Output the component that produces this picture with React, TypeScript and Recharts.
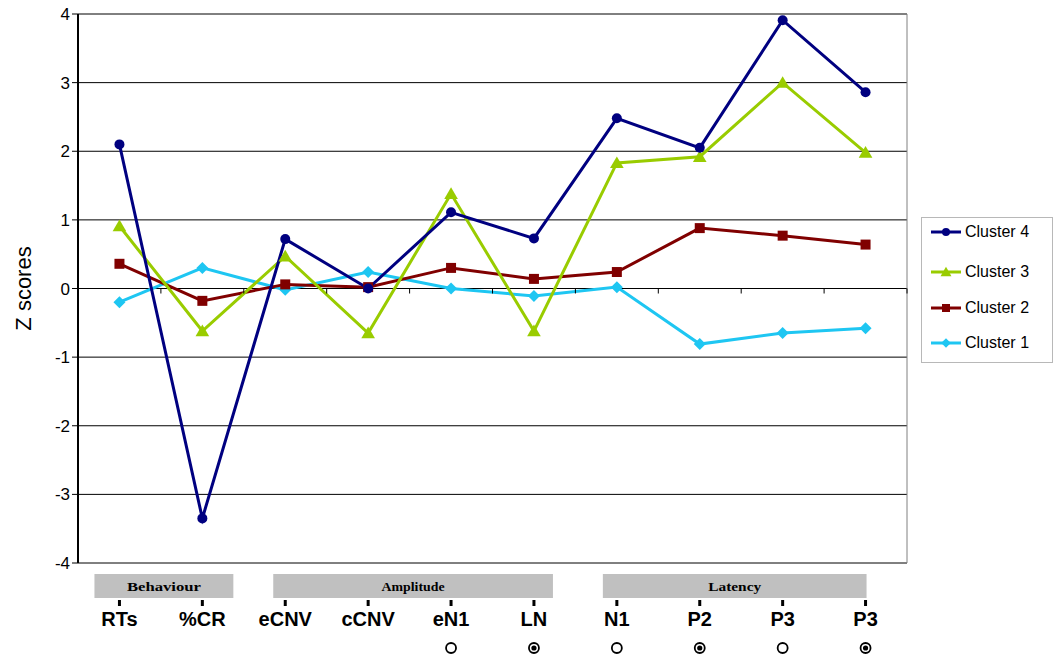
import React from "react";
import {
  LineChart,
  Line,
  XAxis,
  YAxis,
  CartesianGrid,
  ReferenceLine,
  Label,
} from "recharts";

const CATEGORIES = ["RTs", "%CR", "eCNV", "cCNV", "eN1", "LN", "N1", "P2", "P3", "P3"];
const CLUSTER_4 = [2.1, -3.35, 0.72, 0.0, 1.11, 0.73, 2.48, 2.05, 3.91, 2.86];
const CLUSTER_3 = [0.91, -0.62, 0.47, -0.65, 1.38, -0.62, 1.83, 1.92, 3.0, 1.98];
const CLUSTER_2 = [0.36, -0.18, 0.06, 0.02, 0.3, 0.14, 0.24, 0.88, 0.77, 0.64];
const CLUSTER_1 = [-0.2, 0.3, -0.02, 0.24, 0.0, -0.11, 0.02, -0.81, -0.65, -0.58];
const Y_TICKS = [-4, -3, -2, -1, 0, 1, 2, 3, 4];
const GROUPS = [
  { label: "Behaviour", first: 0, last: 1 },
  { label: "Amplitude", first: 2, last: 5 },
  { label: "Latency", first: 6, last: 9 },
];
// "open" = empty circle, "dot" = circle with a dot inside
const MARKS = ["", "", "", "", "open", "dot", "open", "dot", "open", "dot"];

const W = 1057;
const H = 669;
const MARGIN = { top: 14, right: 150, bottom: 0, left: 0 };
const Y_AXIS_W = 78;
const X_AXIS_H = 106;
const PLOT_W = W - MARGIN.left - MARGIN.right - Y_AXIS_W;
const PLOT_H = H - MARGIN.top - X_AXIS_H;
const BAND = PLOT_W / CATEGORIES.length;

// box padding around each group's first/last category
const GROUP_PAD = [
  [25, 31],
  [12, 19],
  [14, 1],
];
const GROUP_TEXT_W = [74, 63, 53];

const SANS = "Arial, 'Liberation Sans', sans-serif";
const SERIF = "'Times New Roman', 'Liberation Serif', serif";

const SERIES = [
  { key: "c1", name: "Cluster 1", values: CLUSTER_1, color: "#1EC6F2", shape: "diamond" },
  { key: "c2", name: "Cluster 2", values: CLUSTER_2, color: "#800000", shape: "square" },
  { key: "c3", name: "Cluster 3", values: CLUSTER_3, color: "#99CC00", shape: "triangle" },
  { key: "c4", name: "Cluster 4", values: CLUSTER_4, color: "#000080", shape: "circle" },
];

const data = CATEGORIES.map((cat, i) => {
  const row: Record<string, any> = { cat };
  SERIES.forEach((s) => (row[s.key] = s.values[i]));
  return row;
});

const markerPath = (shape: string, cx: number, cy: number, s: number) => {
  if (shape === "diamond") return `M${cx},${cy - s} L${cx + s},${cy} L${cx},${cy + s} L${cx - s},${cy} Z`;
  if (shape === "square") return `M${cx - s},${cy - s} h${2 * s} v${2 * s} h${-2 * s} Z`;
  if (shape === "triangle") return `M${cx},${cy - s} L${cx + s * 1.05},${cy + s * 0.8} L${cx - s * 1.05},${cy + s * 0.8} Z`;
  return "";
};

const Marker = ({ shape, cx, cy, color, scale = 1 }: any) => {
  if (shape === "circle") return <circle cx={cx} cy={cy} r={5 * scale} fill={color} />;
  const s = shape === "square" ? 5 : shape === "triangle" ? 6.5 : 6;
  return <path d={markerPath(shape, cx, cy, s * scale)} fill={color} />;
};

const makeDot = (shape: string, color: string) => (p: any) => {
  if (p.cx == null || p.cy == null) return <g key={p.index} />;
  return <Marker key={p.index} shape={shape} cx={p.cx} cy={p.cy} color={color} />;
};

const AxisTick = (props: any) => {
  const { x, y, payload } = props;
  const i = payload.index ?? props.index;
  const zeroY = y - PLOT_H / 2;
  const group = GROUPS.findIndex((g) => g.first === i);
  const mark = MARKS[i];
  return (
    <g>
      <line x1={x - BAND / 2} x2={x - BAND / 2} y1={zeroY} y2={zeroY + 5} stroke="#000" />
      {i === CATEGORIES.length - 1 && (
        <line x1={x + BAND / 2} x2={x + BAND / 2} y1={zeroY} y2={zeroY + 5} stroke="#000" />
      )}
      {group >= 0 && (() => {
        const g = GROUPS[group];
        const x0 = x - GROUP_PAD[group][0];
        const x1 = x + (g.last - g.first) * BAND + GROUP_PAD[group][1];
        return (
          <g>
            <rect x={x0} y={y + 11} width={x1 - x0} height={24} fill="#C0C0C0" />
            <text
              x={(x0 + x1) / 2}
              y={y + 28}
              textAnchor="middle"
              fontFamily={SERIF}
              fontWeight="bold"
              fontSize={12}
              textLength={GROUP_TEXT_W[group]}
              lengthAdjust="spacingAndGlyphs"
              fill="#000"
            >
              {g.label}
            </text>
          </g>
        );
      })()}
      <line x1={x} x2={x} y1={y + 37} y2={y + 43} stroke="#000" strokeWidth={3} />
      <text x={x} y={y + 63} textAnchor="middle" fontFamily={SANS} fontWeight="bold" fontSize={20} fill="#000">
        {payload.value}
      </text>
      {mark && <circle cx={x} cy={y + 85} r={5} fill="#fff" stroke="#000" strokeWidth={1.8} />}
      {mark === "dot" && <circle cx={x} cy={y + 85} r={2.6} fill="#000" />}
    </g>
  );
};

const LEGEND_ROWS = [14, 54, 90, 125];

const ChartLegend = () => {
  const items = [...SERIES].reverse();
  return (
    <div
      style={{
        position: "absolute",
        left: 921,
        top: 217,
        width: 130,
        height: 144,
        border: "1px solid #B8B8B8",
        background: "#fff",
        fontFamily: SANS,
      }}
    >
      {items.map((s, k) => (
        <div
          key={s.key}
          style={{ position: "absolute", left: 8, top: LEGEND_ROWS[k] - 9, height: 18, display: "flex", alignItems: "center" }}
        >
          <svg width={32} height={18}>
            <line x1={1} x2={31} y1={9} y2={9} stroke={s.color} strokeWidth={3} />
            <Marker shape={s.shape} cx={16} cy={9} color={s.color} scale={0.8} />
          </svg>
          <span style={{ fontSize: 16, color: "#000", marginLeft: 3 }}>{s.name}</span>
        </div>
      ))}
    </div>
  );
};

export default function App() {
  return (
    <div style={{ position: "absolute", left: 0, top: 0, width: W, height: H, background: "#fff" }}>
      <LineChart width={W} height={H} data={data} margin={MARGIN}>
        <CartesianGrid vertical={false} stroke="#000" />
        <CartesianGrid
          horizontal={false}
          stroke="#808080"
          verticalCoordinatesGenerator={({ offset }: any) => [offset.left + offset.width]}
        />
        <ReferenceLine y={4} stroke="#808080" />
        <ReferenceLine y={-4} stroke="#808080" />
        <XAxis
          dataKey="cat"
          height={X_AXIS_H}
          axisLine={false}
          tickLine={false}
          tickSize={0}
          tickMargin={0}
          interval={0}
          padding={{ left: BAND / 2, right: BAND / 2 }}
          tick={<AxisTick />}
        />
        <YAxis
          width={Y_AXIS_W}
          domain={[-4, 4]}
          ticks={Y_TICKS}
          interval={0}
          axisLine={{ stroke: "#000", strokeWidth: 2 }}
          tickLine={{ stroke: "#000" }}
          tickSize={6}
          tickMargin={2}
          tick={{ fill: "#000", fontSize: 17, fontFamily: SANS }}
        >
          <Label
            content={(p: any) => {
              const vb = p.viewBox || { y: MARGIN.top, height: PLOT_H };
              const cy = vb.y + vb.height / 2;
              return (
                <text
                  x={23}
                  y={cy}
                  transform={`rotate(-90 23 ${cy})`}
                  textAnchor="middle"
                  dominantBaseline="central"
                  fontSize={22}
                  fontFamily={SANS}
                  fill="#000"
                >
                  Z scores
                </text>
              );
            }}
          />
        </YAxis>
        {SERIES.map((s) => (
          <Line
            key={s.key}
            dataKey={s.key}
            name={s.name}
            type="linear"
            stroke={s.color}
            strokeWidth={3}
            dot={makeDot(s.shape, s.color)}
            activeDot={false}
            isAnimationActive={false}
          />
        ))}
      </LineChart>
      <ChartLegend />
    </div>
  );
}
